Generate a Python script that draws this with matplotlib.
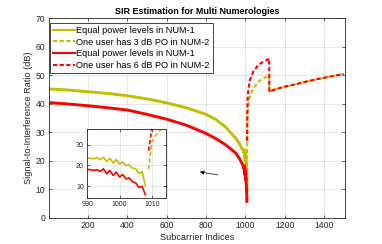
import numpy as np
import matplotlib.pyplot as plt
from matplotlib.lines import Line2D

plt.rcParams['font.family'] = ['Liberation Sans', 'DejaVu Sans']

# NUM-1 (solid) curves, coarse samples
num1_idx = [1, 100, 200, 300, 400, 500, 600, 700, 800, 850, 900, 950, 970]
num1_yellow = [45.2, 44.8, 44.2, 43.6, 42.8, 41.7, 40.3, 38.6, 36.3, 34.5, 31.8, 28.0, 26.0]
num1_red = [40.4, 39.9, 39.3, 38.6, 37.8, 36.3, 34.6, 32.5, 29.6, 27.8, 25.6, 22.8, 20.8]

# per-subcarrier values near the band edge
edge_idx = list(range(990, 1009))
edge_yellow = [23.4, 23.4, 23.1, 23.7, 22.8, 23.9, 21.8, 23.4, 21.1, 22.8,
               20.7, 21.6, 19.9, 20.2, 18.6, 18.4, 16.0, 17.0, 10.1]
edge_red = [18.1, 17.8, 17.6, 17.9, 17.0, 18.3, 15.9, 17.5, 15.1, 16.7,
            14.3, 15.6, 13.4, 13.9, 12.1, 11.5, 9.3, 9.8, 5.8]

# NUM-2 / NUM-3 (dashed) curves
po3_idx = [1009, 1010, 1011, 1012, 1013, 1015, 1023, 1040, 1066, 1091, 1121,
           1122, 1150, 1200, 1250, 1300, 1350, 1400, 1450, 1500]
po3_sir = [18.1, 31.0, 34.0, 36.0, 37.4, 39.3, 42.5, 45.4, 47.7, 48.9, 49.9,
           44.2, 45.0, 46.0, 46.7, 47.6, 48.4, 49.1, 49.8, 50.4]
po6_idx = [1009, 1010, 1011, 1012, 1015, 1023, 1040, 1066, 1091, 1117, 1121,
           1122, 1150, 1200, 1250, 1300, 1350, 1400, 1450, 1500]
po6_sir = [27.0, 37.5, 40.0, 42.0, 45.0, 48.3, 51.2, 53.6, 54.7, 55.6, 55.9,
           44.2, 45.0, 46.0, 46.7, 47.6, 48.4, 49.1, 49.8, 50.4]

labels = ["Equal power levels in NUM-1", "One user has 3 dB PO in NUM-2",
          "Equal power levels in NUM-1", "One user has 6 dB PO in NUM-2"]

yel = (0.75, 0.75, 0.0)
red = (1.0, 0.0, 0.0)
axc = (0.15, 0.15, 0.15)
dash = (2, 1.2)

x1 = np.array(num1_idx + edge_idx)
y_yel = np.array(num1_yellow + edge_yellow)
y_red = np.array(num1_red + edge_red)


def style_axes(ax, fs):
    ax.grid(True, color=(0.15, 0.15, 0.15), alpha=0.12, lw=0.6)
    ax.tick_params(direction="in", length=2.5, width=0.5, colors=axc,
                   labelsize=fs, top=True, right=True, pad=2.5)
    for sp in ax.spines.values():
        sp.set_color(axc)
        sp.set_linewidth(0.6)
    ax.set_axisbelow(True)


fig = plt.figure(figsize=(3.82, 2.44), dpi=100)
ax = fig.add_axes([0.1275, 0.1066, 0.7755, 0.8194])

ax.plot(x1, y_yel, color=yel, lw=2.1)
ax.plot(po3_idx, po3_sir, color=yel, lw=1.5, dashes=dash)
ax.plot(x1, y_red, color=red, lw=2.1)
ax.plot(po6_idx, po6_sir, color=red, lw=1.5, dashes=dash)

ax.set_xlim(1, 1506)
ax.set_ylim(0, 70)
ax.set_xticks(range(200, 1401, 200))
ax.set_yticks(range(0, 71, 10))
style_axes(ax, 6.2)
ax.set_title("SIR Estimation for Multi Numerologies", fontsize=6.5,
             fontweight="bold", pad=3)
ax.set_xlabel("Subcarrier Indices", fontsize=6.6, color=axc, labelpad=2)
ax.set_ylabel("Signal-to-Interference Ratio (dB)", fontsize=6.6, color=axc,
              labelpad=2)

handles = [Line2D([], [], color=yel, lw=1.5),
           Line2D([], [], color=yel, lw=1.5, dashes=dash),
           Line2D([], [], color=red, lw=1.5),
           Line2D([], [], color=red, lw=1.5, dashes=dash)]
leg = ax.legend(handles, labels, loc="upper left",
                bbox_to_anchor=(0.004, 0.975), borderaxespad=0, fontsize=6.6,
                handlelength=2.4, handletextpad=0.2, labelspacing=0.3,
                borderpad=0.3, fancybox=False, framealpha=1)
leg.get_frame().set_edgecolor(axc)
leg.get_frame().set_linewidth(0.6)

ax.annotate("", xy=(755, 16.3), xytext=(874, 14.9),
            arrowprops=dict(arrowstyle="-|>", color="black", lw=0.5,
                            mutation_scale=6))

ins = fig.add_axes([0.2285, 0.1885, 0.206, 0.2816])
ins.plot(x1, y_yel, color=yel, lw=1.2)
ins.plot(po3_idx, po3_sir, color=yel, lw=1.2, dashes=(2.5, 1.5))
ins.plot(x1, y_red, color=red, lw=1.2)
ins.plot(po6_idx, po6_sir, color=red, lw=1.2, dashes=(2.5, 1.5))
ins.set_xlim(990, 1014.4)
ins.set_ylim(4.2, 37.4)
ins.set_xticks([990, 1000, 1010])
ins.set_yticks([10, 20, 30])
style_axes(ins, 5.0)

fig.savefig("out.png", dpi=100)
